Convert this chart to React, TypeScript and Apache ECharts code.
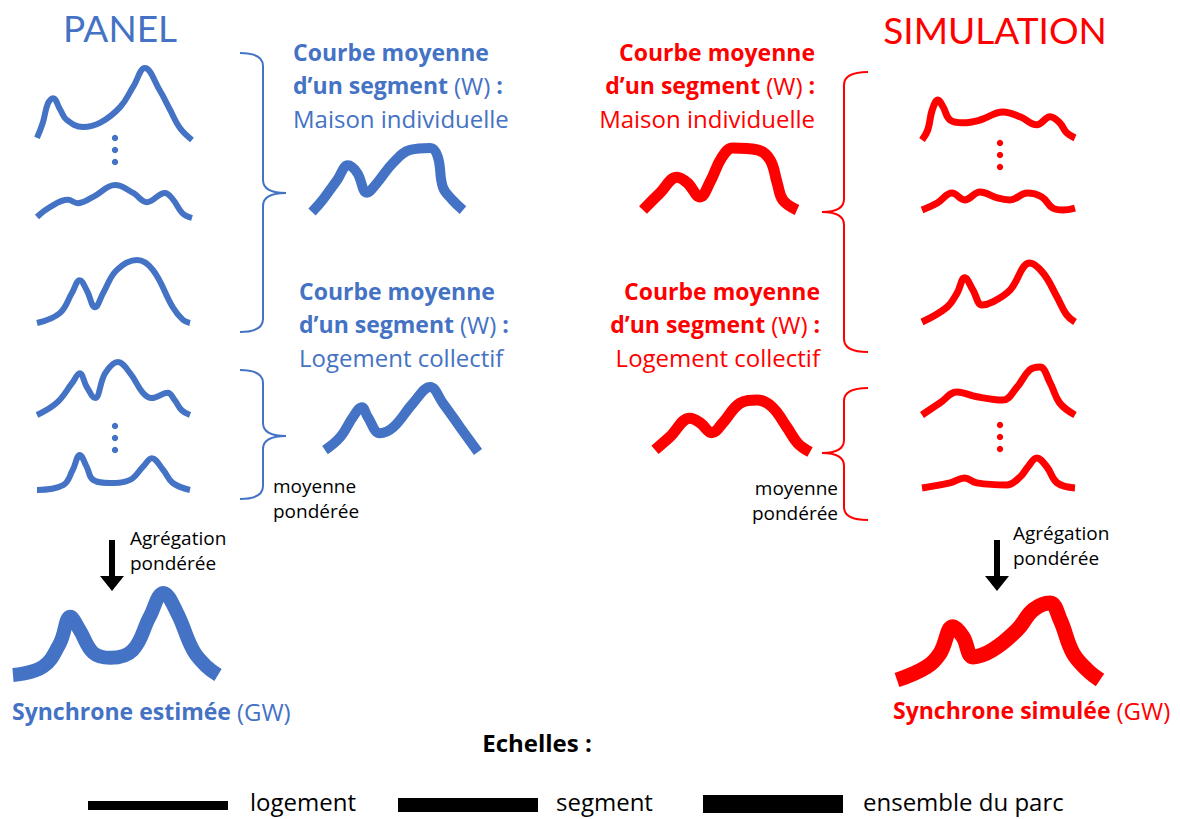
import React, { useEffect, useRef } from 'react';
import * as echarts from 'echarts';

// ---- Data: daily load profiles, [hour, relative power 0-100] ----
const panelMaison1 = [[0, 3], [0.9, 24], [1.7, 51], [2.5, 58], [3.6, 42], [4.6, 28], [7.1, 18], [9.8, 24], [12.9, 46], [14.9, 74], [16.7, 100], [19.0, 69], [20.6, 42], [22.1, 17], [24, 0]];
const panelMaison2 = [[0, 3], [2.0, 33], [4.8, 55], [6.3, 45], [8.7, 64], [12.1, 100], [14.9, 76], [17.0, 48], [19.8, 76], [21.1, 55], [22.5, 15], [24, 0]];
const panelMaison3 = [[0, 0], [3.6, 16], [5.5, 48], [6.7, 68], [7.8, 52], [9.1, 25], [10.4, 48], [12.5, 84], [15.7, 100], [18.2, 84], [21.3, 25], [22.9, 5], [24, 0]];
const panelCollectif1 = [[0, 0], [3.1, 23], [5.5, 60], [6.7, 79], [7.8, 53], [9.1, 32], [10.7, 79], [12.7, 100], [14.6, 79], [16.6, 42], [18.0, 32], [20.5, 42], [21.6, 28], [22.7, 9], [24, 0]];
const panelCollectif2 = [[0, 0], [4.1, 14], [5.6, 57], [6.7, 100], [7.8, 66], [8.8, 29], [11.5, 20], [14.6, 29], [16.6, 66], [18.0, 91], [19.8, 57], [21.3, 20], [24, 0]];
const panelSegMaison = [[0, 0], [1.7, 19], [4.0, 50], [5.7, 73], [7.2, 61], [8.7, 30], [10.3, 45], [12.9, 77], [15.6, 97], [18.8, 100], [20.0, 86], [20.8, 39], [22.3, 19], [24, 3]];
const panelSegCollectif = [[0, 3], [2.4, 23], [4.4, 54], [5.8, 69], [6.7, 54], [8.6, 29], [10.7, 38], [13.8, 75], [16.5, 100], [18.5, 75], [21.2, 38], [24, 0]];
const panelSynchrone = [[0, 0], [3.5, 10], [5.5, 39], [6.7, 71], [7.8, 55], [9.4, 27], [11.4, 21], [14.0, 30], [16.0, 71], [17.6, 100], [19.2, 76], [21.1, 30], [22.7, 10], [24, 0]];

const simMaison1 = [[0, 0], [0.9, 25], [1.6, 75], [2.5, 100], [3.3, 83], [4.4, 50], [6.4, 43], [9.1, 50], [12.7, 70], [15.4, 58], [18.0, 38], [20.1, 58], [21.6, 43], [22.7, 18], [24, 5]];
const simMaison2 = [[0, 0], [2.4, 39], [4.7, 94], [6.7, 56], [9.1, 100], [11.8, 67], [13.8, 56], [16.5, 94], [18.8, 72], [20.5, 11], [22.1, 0], [24, 11]];
const simMaison3 = [[0, 0], [3.9, 25], [5.5, 49], [6.7, 75], [8.0, 54], [9.4, 29], [11.1, 34], [13.8, 54], [16.9, 100], [19.0, 83], [21.2, 42], [22.7, 12], [24, 0]];
const simCollectif1 = [[0, 0], [2.8, 25], [5.5, 48], [8.6, 38], [12.7, 31], [14.9, 58], [16.9, 94], [18.5, 100], [20.1, 67], [21.6, 25], [24, 0]];
const simCollectif2 = [[0, 0], [4.4, 17], [6.7, 33], [8.6, 17], [13.3, 10], [15.4, 37], [16.6, 70], [18.0, 100], [19.6, 70], [21.2, 17], [24, 0]];
const simSegMaison = [[0, 0], [2.6, 27], [5.3, 53], [6.9, 44], [8.9, 21], [10.4, 44], [12.3, 85], [14.0, 100], [17.8, 97], [19.8, 81], [20.9, 44], [21.8, 16], [24, 0]];
const simSegCollectif = [[0, 4], [2.3, 29], [5.4, 65], [7.0, 56], [8.8, 37], [10.5, 56], [13.2, 94], [15.8, 100], [18.1, 87], [20.4, 48], [22.1, 17], [24, 0]];
const simSynchrone = [[0, 0], [3.5, 17], [5.1, 35], [6.6, 69], [7.8, 56], [9.0, 30], [11.3, 39], [14.2, 65], [16.1, 91], [18.1, 100], [19.3, 78], [20.8, 35], [22.5, 13], [24, 0]];

const scaleLabels = ['logement', 'segment', 'ensemble du parc'];

const BLUE = '#4472C4';
const RED = '#FF0000';
const FONT = "'Open Sans'";
const TITLE_FONT = 'Lato';

// layout: [data, left, top, width, height, color, lineWidth]
const curves: any[] = [
  [panelMaison1, 37, 68, 155, 72, BLUE, 6],
  [panelMaison2, 37, 185, 155, 33, BLUE, 6],
  [panelMaison3, 37, 260, 153, 63, BLUE, 6],
  [panelCollectif1, 37, 362, 153, 53, BLUE, 6],
  [panelCollectif2, 37, 455, 153, 35, BLUE, 6],
  [panelSegMaison, 312, 148, 151, 64, BLUE, 10],
  [panelSegCollectif, 325, 387, 153, 65, BLUE, 10],
  [panelSynchrone, 13, 593, 205, 82, BLUE, 14],
  [simMaison1, 922, 100, 153, 40, RED, 7],
  [simMaison2, 922, 192, 153, 18, RED, 7],
  [simMaison3, 922, 263, 153, 59, RED, 7],
  [simCollectif1, 922, 367, 153, 48, RED, 7],
  [simCollectif2, 922, 458, 153, 30, RED, 7],
  [simSegMaison, 643, 148, 154, 62, RED, 11],
  [simSegCollectif, 655, 400, 155, 52, RED, 11],
  [simSynchrone, 897, 603, 203, 77, RED, 15],
];

function rich(color: string, size: number, family: string) {
  return {
    b: { fill: color, fontSize: size, fontFamily: family, fontWeight: 'bold' },
    r: { fill: color, fontSize: size + 1, fontFamily: family, fontWeight: 'normal' },
  };
}

function txt(x: number, y: number, text: string, color: string, size: number, align = 'left', weight = 'normal', family = FONT) {
  return {
    type: 'text',
    x,
    y,
    silent: true,
    style: {
      text,
      fill: color,
      font: `${weight} ${size}px ${family}`,
      fontSize: size,
      fontFamily: family,
      fontWeight: weight,
      align,
      textAlign: align,
      verticalAlign: 'middle',
      textVerticalAlign: 'middle',
      rich: rich(color, size, family),
    },
  };
}

function brace(endX: number, stemX: number, tipX: number, yTop: number, yMid: number, yBot: number, color: string) {
  const r = 13;
  const st = { stroke: color, lineWidth: 2, fill: null };
  return [
    { type: 'bezierCurve', shape: { x1: endX, y1: yTop, x2: stemX, y2: yTop + r, cpx1: stemX, cpy1: yTop }, style: st },
    { type: 'line', shape: { x1: stemX, y1: yTop + r, x2: stemX, y2: yMid - r }, style: st },
    { type: 'bezierCurve', shape: { x1: stemX, y1: yMid - r, x2: tipX, y2: yMid, cpx1: stemX, cpy1: yMid }, style: st },
    { type: 'bezierCurve', shape: { x1: tipX, y1: yMid, x2: stemX, y2: yMid + r, cpx1: stemX, cpy1: yMid }, style: st },
    { type: 'line', shape: { x1: stemX, y1: yMid + r, x2: stemX, y2: yBot - r }, style: st },
    { type: 'bezierCurve', shape: { x1: stemX, y1: yBot - r, x2: endX, y2: yBot, cpx1: stemX, cpy1: yBot }, style: st },
  ];
}

function dots(x: number, ys: number[], color: string) {
  return ys.map((y) => ({ type: 'circle', shape: { cx: x, cy: y, r: 3.2 }, style: { fill: color } }));
}

function arrow(x: number, yTop: number, yHead: number, yTip: number) {
  return [
    { type: 'rect', shape: { x: x - 3, y: yTop, width: 6, height: yHead - yTop + 1 }, style: { fill: '#000' } },
    { type: 'polygon', shape: { points: [[x - 12, yHead], [x + 12, yHead], [x, yTip]] }, style: { fill: '#000' } },
  ];
}

export default function App() {
  const ref = useRef<HTMLDivElement>(null);
  useEffect(() => {
    if (!ref.current) return;
    const chart = echarts.init(ref.current, null, { renderer: 'svg' });
    const grid = curves.map((c) => ({ left: c[1], top: c[2], width: c[3], height: c[4], containLabel: false }));
    const xAxis = curves.map((_, i) => ({ type: 'value', gridIndex: i, min: 0, max: 24, show: false }));
    const yAxis = curves.map((_, i) => ({ type: 'value', gridIndex: i, min: 0, max: 100, show: false }));
    const series = curves.map((c, i) => ({
      type: 'line',
      xAxisIndex: i,
      yAxisIndex: i,
      data: c[0],
      smooth: 0.4,
      symbol: 'none',
      clip: false,
      silent: true,
      lineStyle: { color: c[5], width: c[6], cap: 'butt', join: 'round' },
    }));

    const graphic: any[] = [
      txt(120, 27, 'PANEL', BLUE, 37, 'center', 'normal', TITLE_FONT),
      txt(995, 29, 'SIMULATION', RED, 37, 'center', 'normal', TITLE_FONT),
      // blue text blocks
      txt(293, 52, '{b|Courbe moyenne}', BLUE, 23),
      txt(293, 85, '{b|d’un segment} {r|(W)} {b|:}', BLUE, 23),
      txt(293, 118, '{r|Maison individuelle}', BLUE, 23),
      txt(299, 291, '{b|Courbe moyenne}', BLUE, 23),
      txt(299, 324, '{b|d’un segment} {r|(W)} {b|:}', BLUE, 23),
      txt(299, 357, '{r|Logement collectif}', BLUE, 23),
      // red text blocks
      txt(815, 52, '{b|Courbe moyenne}', RED, 23, 'right'),
      txt(815, 85, '{b|d’un segment} {r|(W)} {b|:}', RED, 23, 'right'),
      txt(815, 118, '{r|Maison individuelle}', RED, 23, 'right'),
      txt(820, 291, '{b|Courbe moyenne}', RED, 23, 'right'),
      txt(820, 324, '{b|d’un segment} {r|(W)} {b|:}', RED, 23, 'right'),
      txt(820, 357, '{r|Logement collectif}', RED, 23, 'right'),
      // small black notes
      txt(273, 486, 'moyenne', '#000', 19),
      txt(273, 511, 'pondérée', '#000', 19),
      txt(838, 488, 'moyenne', '#000', 19, 'right'),
      txt(838, 513, 'pondérée', '#000', 19, 'right'),
      txt(130, 538, 'Agrégation', '#000', 19),
      txt(130, 563, 'pondérée', '#000', 19),
      txt(1013, 533, 'Agrégation', '#000', 19),
      txt(1013, 558, 'pondérée', '#000', 19),
      // synchrone labels
      txt(12, 711, '{b|Synchrone estimée} {r|(GW)}', BLUE, 23),
      txt(893, 710, '{b|Synchrone simulée} {r|(GW)}', RED, 23),
      // scales
      txt(537, 742, 'Echelles :', '#000', 24, 'center', 'bold'),
      { type: 'rect', shape: { x: 88, y: 801, width: 140, height: 9 }, style: { fill: '#000' } },
      { type: 'rect', shape: { x: 398, y: 798, width: 140, height: 14 }, style: { fill: '#000' } },
      { type: 'rect', shape: { x: 703, y: 795, width: 140, height: 18 }, style: { fill: '#000' } },
      txt(250, 801, scaleLabels[0], '#000', 24),
      txt(556, 801, scaleLabels[1], '#000', 24),
      txt(863, 801, scaleLabels[2], '#000', 24),
      ...brace(240, 263, 286, 53, 193, 332, BLUE),
      ...brace(240, 263, 286, 370, 436, 499, BLUE),
      ...brace(868, 844, 822, 72, 212, 352, RED),
      ...brace(868, 844, 822, 388, 453, 520, RED),
      ...dots(115, [138, 150, 162], BLUE),
      ...dots(115, [426, 438, 450], BLUE),
      ...dots(1000, [143, 155, 167], RED),
      ...dots(1000, [425, 437, 449], RED),
      ...arrow(112, 540, 576, 591),
      ...arrow(997, 540, 576, 591),
    ];

    chart.setOption({
      animation: false,
      backgroundColor: '#fff',
      grid,
      xAxis,
      yAxis,
      series,
      graphic: { elements: graphic },
    });
    return () => chart.dispose();
  }, []);
  return <div ref={ref} style={{ position: 'fixed', left: 0, top: 0, width: 1180, height: 819 }} />;
}
